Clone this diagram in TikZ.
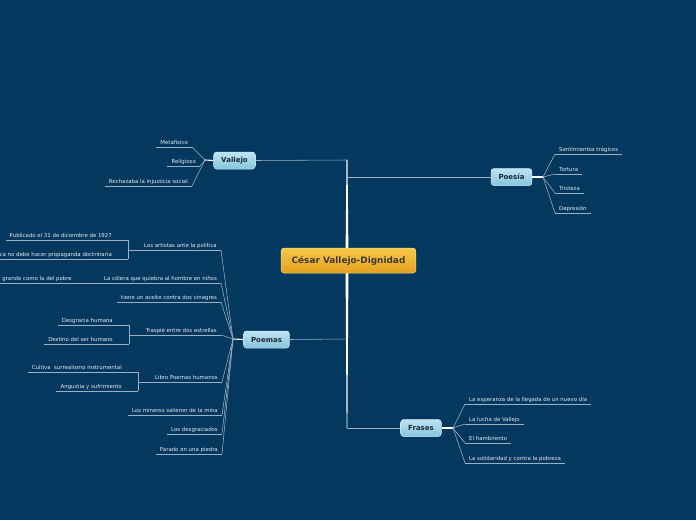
\documentclass[tikz,border=0pt]{standalone}
\usepackage{fontspec}
\setmainfont{DejaVu Sans}
\usetikzlibrary{positioning}
\definecolor{bgblue}{HTML}{04385F}
\definecolor{linkgray}{HTML}{9AB0C3}
\definecolor{leaftext}{HTML}{E4EBF1}
\definecolor{topictop}{HTML}{BCE4F3}
\definecolor{topicbot}{HTML}{84C5DF}
\definecolor{topicline}{HTML}{D2EDF7}
\definecolor{roottop}{HTML}{F8C94C}
\definecolor{rootbot}{HTML}{E2A01C}
\definecolor{darktext}{HTML}{1E2830}

\tikzset{
  topic/.style={draw=topicline, line width=0.5pt, rounded corners=3pt,
    top color=topictop, bottom color=topicbot, text=darktext,
    font=\fontsize{7}{8}\selectfont\bfseries,
    minimum height=17pt, inner xsep=7.5pt, inner ysep=0pt},
  centre/.style={topic, draw=roottop!70!white, top color=roottop, bottom color=rootbot,
    text=darktext!80!brown, font=\fontsize{8.9}{10}\selectfont\bfseries,
    minimum height=25pt, inner xsep=10.5pt},
  leaf/.style={text=leaftext, font=\fontsize{5.4}{6.2}\selectfont,
    inner xsep=4pt, inner ysep=1.6pt, text height=3.9pt, text depth=1.1pt},
  leafl/.style={leaf, anchor=south east},
  leafr/.style={leaf, anchor=south west},
  kid/.style={leaf, anchor=south east, xshift=-12pt},
  link/.style={draw=linkgray, line width=0.55pt},
  stub/.style={draw=white, line width=1.1pt},
}

\begin{document}
\begin{tikzpicture}[x=1pt, y=-1pt]
  \fill[bgblue] (0,0) rectangle (696,520);
  \useasboundingbox (0,0) rectangle (696,520);

  % trunk
  \coordinate (hub) at (347,260);
  \coordinate (tv) at (347,160);
  \coordinate (tp) at (347,177);
  \coordinate (tm) at (347,339);
  \coordinate (tf) at (347,428);
  \fill[white] ([xshift=-1.5pt]hub) -- ([xshift=1.5pt]hub) -- ([xshift=0.5pt]tv) -- ([xshift=-0.5pt]tv) -- cycle;
  \fill[white] ([xshift=-1.5pt]hub) -- ([xshift=1.5pt]hub) -- ([xshift=0.4pt]tf) -- ([xshift=-0.4pt]tf) -- cycle;

  % main topics
  \node[centre] (root) at (348.5,260.5) {César Vallejo-Dignidad};
  \node[topic] (vallejo) at (234.5,160.5) {Vallejo};
  \node[topic] (poesia) at (511.5,177) {Poesía};
  \node[topic] (poemas) at (266.5,339.5) {Poemas};
  \node[topic] (frases) at (421,428) {Frases};

  \draw[link] (vallejo.east) -- (tv);
  \draw[link] (poesia.west) -- (tp);
  \draw[link] (poemas.east) -- (tm);
  \draw[link] (frases.west) -- (tf);

  % junctions
  \coordinate (jval) at (205,160);
  \coordinate (jpoe) at (543,177);
  \coordinate (jpom) at (233,339);
  \coordinate (jfra) at (453,428);
  \draw[stub] (vallejo.west) -- (jval);
  \draw[stub] (poesia.east) -- (jpoe);
  \draw[stub] (poemas.west) -- (jpom);
  \draw[stub] (frases.east) -- (jfra);

  % Vallejo
  \node[leafl] (meta) at (192,147) {Metafísico};
  \node[leafl] (reli) at (200,166) {Religioso};
  \node[leafl] (recha) at (192,186) {Rechazaba la injusticia social};
  \foreach \n in {meta,reli,recha}
    \draw[link] (jval) -- (\n.south east);

  % Poesia
  \node[leafr] (senti) at (555,154) {Sentimientos trágicos};
  \node[leafr] (tort) at (555,174) {Tortura};
  \node[leafr] (trist) at (555,193) {Tristeza};
  \node[leafr] (depre) at (555,213) {Depresión};
  \foreach \n in {senti,tort,trist,depre}
    \draw[link] (jpoe) -- (\n.south west);

  % Frases
  \node[leafr] (esper) at (465,404) {La esperanza de la llegada de un nuevo día};
  \node[leafr] (lucha) at (465,424) {La lucha de Vallejo};
  \node[leafr] (hamb) at (465,443) {El hambriento};
  \node[leafr] (solid) at (465,463) {La solidaridad y contra la pobreza};
  \foreach \n in {esper,lucha,hamb,solid}
    \draw[link] (jfra) -- (\n.south west);

  % Poemas
  \node[leafl] (artis) at (221,250) {Los artistas ante la política};
  \node[leafl] (coler) at (221,283) {La cólera que quiebra al hombre en niños};
  \node[leafl] (aceit) at (221,302) {tiene un aceite contra dos vinagres};
  \node[leafl] (trasp) at (221,335) {Traspié entre dos estrellas};
  \node[leafl] (libro) at (222,382) {Libro Poemas humanos};
  \node[leafl] (miner) at (222,415) {Los mineros salieron de la mina};
  \node[leafl] (desgc) at (222,434) {Los desgraciados};
  \node[leafl] (parad) at (222,454) {Parado en una piedra};
  \foreach \n in {artis,coler,aceit,trasp,libro,miner,desgc,parad}
    \draw[link] (jpom) -- (\n.south east);

  \node[leafl] (pobre) at (76,283) {grande como la del pobre};
  \draw[link] (coler.south west) -- (pobre.south east);

  \node[kid] (publ) at (128,240) {Publicado el 31 de diciembre de 1927};
  \node[kid] (doct) at (128,259) {ca no debe hacer propaganda doctrinaria};
  \node[kid] (desgr) at (129,325) {Desgracia humana};
  \node[kid] (desti) at (129,344) {Destino del ser humano};
  \node[kid] (culti) at (138,372) {Cultiva~ surrealismo instrumental};
  \node[kid] (angus) at (138,391) {Angustia y sufrimiento};
  \foreach \n in {publ,doct,desgr,desti,culti,angus}
    \draw[link] (\n.south west) -- ([xshift=12pt]\n.south east);
  \draw[link] ([xshift=12pt]publ.south east) -- ([xshift=12pt]doct.south east);
  \draw[link] ([xshift=12pt]desgr.south east) -- ([xshift=12pt]desti.south east);
  \draw[link] ([xshift=12pt]culti.south east) -- ([xshift=12pt]angus.south east);
  \draw[link] (artis.south west) -- ([xshift=12pt]publ.south east |- artis.south west);
  \draw[link] (trasp.south west) -- ([xshift=12pt]desgr.south east |- trasp.south west);
  \draw[link] (libro.south west) -- ([xshift=12pt]culti.south east |- libro.south west);

  % underlines
  \foreach \n in {meta,reli,recha,senti,tort,trist,depre,esper,lucha,hamb,solid,
      artis,coler,aceit,trasp,libro,miner,desgc,parad,pobre}
    \draw[link] (\n.south west) -- (\n.south east);
\end{tikzpicture}
\end{document}
